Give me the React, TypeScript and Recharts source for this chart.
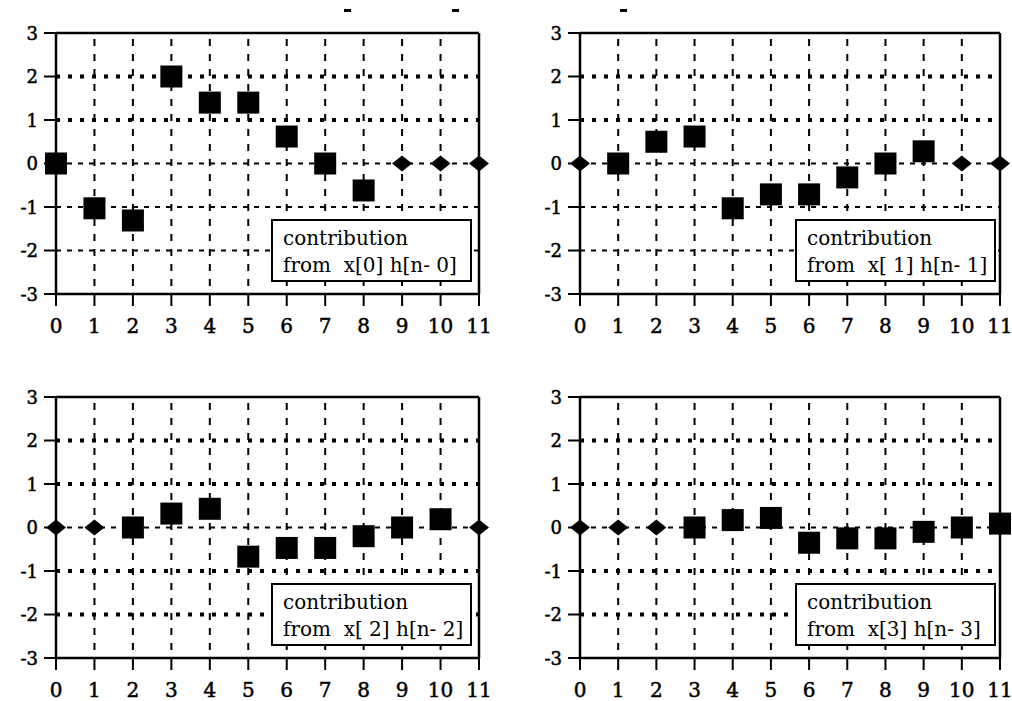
import React from "react";
import { ScatterChart, Scatter, XAxis, YAxis, ReferenceLine } from "recharts";

// sample index n
const nValues = [0, 1, 2, 3, 4, 5, 6, 7, 8, 9, 10, 11];
const xTicks = [0, 1, 2, 3, 4, 5, 6, 7, 8, 9, 10, 11];
const yTicks = [-3, -2, -1, 0, 1, 2, 3];
const gridX = [1, 2, 3, 4, 5, 6, 7, 8, 9, 10];
const gridY = [2, 1, 0, -1, -2];

// contributions x[k] h[n-k]
const contrib0 = [0, -1.03, -1.31, 2.0, 1.4, 1.4, 0.62, 0, -0.62, 0, 0, 0];
const contrib1 = [0, 0, 0.5, 0.62, -1.03, -0.71, -0.71, -0.32, 0, 0.28, 0, 0];
const contrib2 = [0, 0, 0, 0.32, 0.43, -0.67, -0.47, -0.47, -0.2, 0, 0.19, 0];
const contrib3 = [0, 0, 0, 0, 0.17, 0.22, -0.35, -0.25, -0.25, -0.1, 0, 0.09];

// shift k of each panel, the impulse response has 9 samples
const shifts = [0, 1, 2, 3];
const hLength = 9;
const legendLines2 = ["from  x[0] h[n- 0]", "from  x[ 1] h[n- 1]", "from  x[ 2] h[n- 2]", "from  x[3] h[n- 3]"];
const legendLine1 = "contribution";

const FONT = "DejaVu Serif, Liberation Serif, serif";

const SquareShape = (props: any) => {
  const { cx, cy } = props;
  if (cx == null || cy == null) return null;
  return <rect x={cx - 11} y={cy - 11} width={22} height={22} fill="#000" />;
};

const DiamondShape = (props: any) => {
  const { cx, cy } = props;
  if (cx == null || cy == null) return null;
  return (
    <polygon
      points={`${cx - 10},${cy} ${cx},${cy - 8} ${cx + 10},${cy} ${cx},${cy + 8}`}
      fill="#000"
    />
  );
};

const XTick = (props: any) => {
  const { x, y, payload } = props;
  return (
    <text x={x} y={y} dy={17} textAnchor="middle" fontFamily={FONT} fontSize={20} fill="#000" stroke="#000" strokeWidth={0.5}>
      {payload.value}
    </text>
  );
};

const YTick = (props: any) => {
  const { x, y, payload } = props;
  return (
    <text x={x} y={y} dy={6.5} textAnchor="end" fontFamily={FONT} fontSize={18} fill="#000" stroke="#000" strokeWidth={0.5}>
      {payload.value}
    </text>
  );
};

type PanelProps = {
  values: number[];
  shift: number;
  left: number;
  top: number;
  rightMargin: number;
  dotted: number[];
  legend: string;
};

const Panel = ({ values, shift, left, top, rightMargin, dotted, legend }: PanelProps) => {
  const squares = nValues
    .map((n, i) => ({ n, v: values[i] }))
    .filter((p) => p.n >= shift && p.n < shift + hLength);
  const diamonds = nValues
    .map((n, i) => ({ n, v: values[i] }))
    .filter((p) => p.n < shift || p.n >= shift + hLength);
  return (
    <div style={{ position: "absolute", left, top, width: 500, height: 345 }}>
      <ScatterChart
        width={500}
        height={345}
        margin={{ top: 33, right: rightMargin, bottom: 0, left: 0 }}
      >
        <XAxis
          type="number"
          dataKey="n"
          domain={[0, 11]}
          ticks={xTicks}
          interval={0}
          height={51}
          tickSize={12}
          tickMargin={10}
          tick={<XTick />}
          axisLine={{ stroke: "#000", strokeWidth: 2.5 }}
          tickLine={{ stroke: "#000", strokeWidth: 2 }}
        />
        <YAxis
          type="number"
          dataKey="v"
          domain={[-3, 3]}
          ticks={yTicks}
          interval={0}
          width={56}
          tickSize={12}
          tickMargin={6}
          tick={<YTick />}
          axisLine={{ stroke: "#000", strokeWidth: 2.5 }}
          tickLine={{ stroke: "#000", strokeWidth: 2 }}
        />
        {gridX.map((x) => (
          <ReferenceLine
            key={`gx${x}`}
            x={x}
            stroke="#000"
            strokeWidth={2}
            strokeDasharray="7 8"
            strokeDashoffset={-8}
          />
        ))}
        {gridY.map((y) =>
          dotted.includes(y) ? (
            <ReferenceLine
              key={`gy${y}`}
              y={y}
              stroke="#000"
              strokeWidth={4}
              strokeDasharray="4 8"
            />
          ) : (
            <ReferenceLine
              key={`gy${y}`}
              y={y}
              stroke="#000"
              strokeWidth={2}
              strokeDasharray="5 6"
            />
          )
        )}
        <ReferenceLine x={11} stroke="#000" strokeWidth={2.5} />
        <ReferenceLine y={3} stroke="#000" strokeWidth={2.5} />
        <Scatter data={diamonds} dataKey="v" shape={DiamondShape} isAnimationActive={false} />
        <Scatter data={squares} dataKey="v" shape={SquareShape} isAnimationActive={false} />
      </ScatterChart>
      <div
        style={{
          position: "absolute",
          left: 271,
          top: 219,
          width: 201,
          height: 63,
          border: "2px solid #000",
          background: "#fff",
          fontFamily: FONT,
          fontSize: 20,
          lineHeight: "27px",
          color: "#000",
          paddingLeft: 10,
          paddingTop: 4,
          boxSizing: "border-box",
          whiteSpace: "pre",
        }}
      >
        <div>{legendLine1}</div>
        <div>{legend}</div>
      </div>
    </div>
  );
};

export default function App() {
  const all = [contrib0, contrib1, contrib2, contrib3];
  const cfg = [
    { left: 0, top: 0, rightMargin: 21, dotted: [2, 1] },
    { left: 524, top: 0, rightMargin: 24, dotted: [2, 1] },
    { left: 0, top: 364, rightMargin: 21, dotted: [2, 1, -1, -2] },
    { left: 524, top: 364, rightMargin: 24, dotted: [2, 1, -1, -2] },
  ];
  return (
    <div
      style={{
        position: "absolute",
        left: 0,
        top: 0,
        width: 1012,
        height: 701,
        background: "#fff",
        overflow: "hidden",
      }}
    >
      {cfg.map((c, i) => (
        <Panel
          key={i}
          values={all[i]}
          shift={shifts[i]}
          left={c.left}
          top={c.top}
          rightMargin={c.rightMargin}
          dotted={c.dotted}
          legend={legendLines2[i]}
        />
      ))}
      <div style={{ position: "absolute", left: 344, top: 9, width: 7, height: 3, background: "#000" }} />
      <div style={{ position: "absolute", left: 452, top: 9, width: 7, height: 3, background: "#000" }} />
      <div style={{ position: "absolute", left: 620, top: 9, width: 7, height: 3, background: "#000" }} />
    </div>
  );
}
